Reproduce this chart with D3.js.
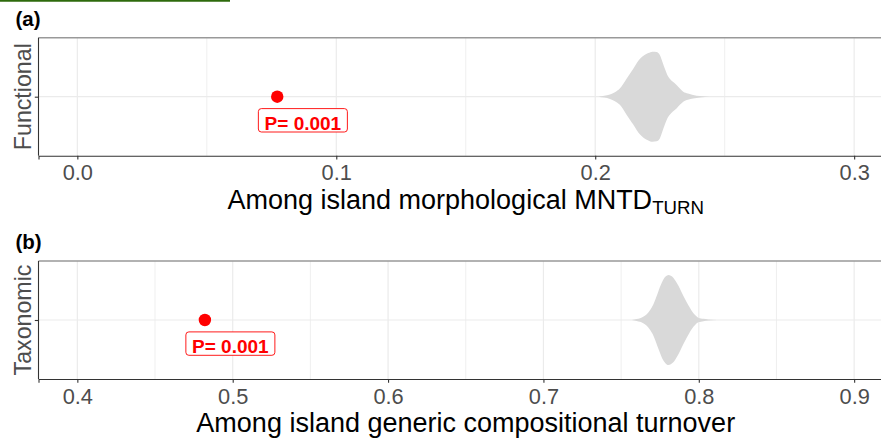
<!DOCTYPE html>
<html>
<head>
<meta charset="utf-8">
<script src="https://cdn.jsdelivr.net/npm/d3@7"></script>
<style>
  html, body { margin: 0; padding: 0; background: #fff; }
  svg { display: block; font-family: "Liberation Sans", Arial, sans-serif; }
</style>
</head>
<body>
<svg id="chart" width="881" height="441"></svg>
<script>
// ---------------- data ----------------
const panelTags = ["(a)", "(b)"];
const groupNames = ["Functional", "Taxonomic"];
const xTitlesMain = ["Among island morphological MNTD", "Among island generic compositional turnover"];
const xTitlesSub = ["TURN", ""];
const pLabel = "P= 0.001";

const observedA = 0.0772;
const observedB = 0.4821;
const labelXA = 0.0871;
const labelXB = 0.4985;

const limitsA = [0, 0.3];
const limitsB = [0.4, 0.9];
const ticksA = [0, 0.1, 0.2, 0.3];
const tickLabelsA = ["0.0", "0.1", "0.2", "0.3"];
const minorA = [0.05, 0.15, 0.25];
const ticksB = [0.4, 0.5, 0.6, 0.7, 0.8, 0.9];
const tickLabelsB = ["0.4", "0.5", "0.6", "0.7", "0.8", "0.9"];
const minorB = [0.45, 0.55, 0.65, 0.75, 0.85];

// null-model distributions (violin outline: value, relative density)
const violinAX = [0.2012, 0.2035, 0.2057, 0.2076, 0.2095, 0.2108, 0.2121, 0.2134, 0.2147, 0.2160, 0.2173, 0.2189, 0.2205, 0.2221, 0.2237, 0.2250, 0.2259, 0.2269, 0.2278, 0.2288, 0.2300, 0.2314, 0.2327, 0.2340, 0.2358, 0.2378, 0.2405, 0.2443];
const violinAD = [0.00, 0.02, 0.05, 0.10, 0.18, 0.28, 0.40, 0.51, 0.62, 0.74, 0.84, 0.92, 0.97, 1.00, 0.99, 0.92, 0.78, 0.62, 0.49, 0.40, 0.33, 0.26, 0.18, 0.11, 0.07, 0.04, 0.015, 0.00];
const violinBX = [0.7569, 0.7600, 0.7622, 0.7645, 0.7665, 0.7688, 0.7708, 0.7724, 0.7740, 0.7756, 0.7772, 0.7788, 0.7804, 0.7820, 0.7836, 0.7852, 0.7869, 0.7890, 0.7912, 0.7934, 0.7955, 0.7976, 0.7997, 0.8030, 0.8062, 0.8116];
const violinBD = [0.00, 0.02, 0.04, 0.08, 0.13, 0.23, 0.35, 0.49, 0.64, 0.78, 0.90, 0.97, 1.00, 0.98, 0.94, 0.86, 0.76, 0.61, 0.46, 0.32, 0.20, 0.11, 0.05, 0.025, 0.012, 0.00];

// ---------------- drawing ----------------
const svg = d3.select("#chart");
const FONT = '"Liberation Sans", Arial, sans-serif';

// thin green rule at very top
svg.append("line").attr("x1", 0).attr("x2", 230).attr("y1", 0.8).attr("y2", 0.8)
  .attr("stroke", "#2e6a0c").attr("stroke-width", 1.7);

function drawPanel(cfg) {
  const left = 38.5, right = 893, top = cfg.top, bottom = cfg.top + 118;
  const span = cfg.limits[1] - cfg.limits[0];
  const x = d3.scaleLinear()
    .domain([cfg.limits[0] - 0.05 * span, cfg.limits[1] + 0.05 * span])
    .range([left, right]);
  const y = d3.scaleLinear().domain([0.4, 1.6]).range([bottom, top]);
  const g = svg.append("g");

  // grid
  g.selectAll(".minor").data(cfg.minor).enter().append("line")
    .attr("x1", d => x(d)).attr("x2", d => x(d)).attr("y1", top).attr("y2", bottom)
    .attr("stroke", "#ebebeb").attr("stroke-width", 0.8);
  g.selectAll(".major").data(cfg.ticks).enter().append("line")
    .attr("x1", d => x(d)).attr("x2", d => x(d)).attr("y1", top).attr("y2", bottom)
    .attr("stroke", "#ebebeb").attr("stroke-width", 1.2);
  g.append("line").attr("x1", left).attr("x2", right).attr("y1", y(1)).attr("y2", y(1))
    .attr("stroke", "#ebebeb").attr("stroke-width", 1.2);

  // violin
  const pts = cfg.vx.map((v, i) => [v, cfg.vd[i]]);
  const w = d3.scaleLinear().domain([0, 1]).range([0, 0.458]);
  const area = d3.area()
    .x(d => x(d[0]))
    .y0(d => y(1 - w(d[1])))
    .y1(d => y(1 + w(d[1])))
    .curve(d3.curveMonotoneX);
  g.append("path").datum(pts).attr("d", area).attr("fill", "#d9d9d9").attr("stroke", "none");

  // observed point
  g.append("circle").attr("cx", x(cfg.obs)).attr("cy", y(1)).attr("r", 6.2).attr("fill", "#ff0000");

  // label
  const lg = g.append("g");
  const lcx = x(cfg.labelX), lcy = y(1 - 0.24);
  const t = lg.append("text").attr("x", lcx).attr("y", lcy + 9.4)
    .attr("text-anchor", "middle").attr("font-family", FONT).attr("font-weight", "bold")
    .attr("font-size", 19).attr("fill", "#ff0000").text(pLabel);
  const bb = t.node().getBBox();
  lg.insert("rect", "text")
    .attr("x", lcx - bb.width / 2 - 6).attr("y", lcy - 11.7)
    .attr("width", bb.width + 12).attr("height", 23.4)
    .attr("rx", 3).attr("ry", 3)
    .attr("fill", "#ffffff").attr("stroke", "#ff0000").attr("stroke-width", 0.9);

  // panel border top
  g.append("line").attr("x1", left).attr("x2", right).attr("y1", top).attr("y2", top)
    .attr("stroke", "#999999").attr("stroke-width", 1.4);

  // x axis
  const xa = d3.axisBottom(x).tickValues(cfg.ticks)
    .tickFormat((d, i) => cfg.tickLabels[i]).tickSize(3.7).tickPadding(5.5);
  const ax = g.append("g").attr("transform", `translate(0,${bottom})`).call(xa);
  ax.select(".domain").attr("stroke", "#333333").attr("stroke-width", 1.1);
  ax.selectAll(".tick line").attr("stroke", "#333333").attr("stroke-width", 1.1);
  ax.selectAll(".tick text").attr("font-family", FONT).attr("font-size", 21.8).attr("fill", "#4d4d4d");

  // y axis (single category)
  const ya = d3.axisLeft(d3.scalePoint().domain([cfg.group]).range([y(1), y(1)]))
    .tickSize(3.7).tickFormat("");
  const ay = g.append("g").attr("transform", `translate(${left},0)`).call(ya);
  ay.select(".domain").remove();
  g.append("line").attr("x1", left).attr("x2", left).attr("y1", top).attr("y2", bottom)
    .attr("stroke", "#333333").attr("stroke-width", 1.1);
  ay.selectAll(".tick line").attr("stroke", "#333333").attr("stroke-width", 1.1);

  // y title
  g.append("text").attr("transform", `translate(31.3,${y(1)}) rotate(-90)`)
    .attr("text-anchor", "middle").attr("font-family", FONT).attr("font-size", 23.2)
    .attr("fill", "#4d4d4d").text(cfg.group);

  // x title
  const xt = g.append("text").attr("x", (left + right) / 2).attr("y", bottom + 53.3)
    .attr("text-anchor", "middle").attr("font-family", FONT).attr("font-size", 27)
    .attr("fill", "#000000");
  xt.append("tspan").text(cfg.titleMain);
  if (cfg.titleSub) {
    xt.append("tspan").attr("font-size", 18.7).attr("dy", 5).text(cfg.titleSub);
  }

  // tag
  svg.append("text").attr("x", 15.5).attr("y", top - 11.8).attr("font-family", FONT)
    .attr("font-weight", "bold").attr("font-size", 20.5).attr("fill", "#000").text(cfg.tag);
}

drawPanel({ top: 37.7, limits: limitsA, ticks: ticksA, tickLabels: tickLabelsA, minor: minorA,
  vx: violinAX, vd: violinAD, obs: observedA, labelX: labelXA, group: groupNames[0],
  titleMain: xTitlesMain[0], titleSub: xTitlesSub[0], tag: panelTags[0] });
drawPanel({ top: 261, limits: limitsB, ticks: ticksB, tickLabels: tickLabelsB, minor: minorB,
  vx: violinBX, vd: violinBD, obs: observedB, labelX: labelXB, group: groupNames[1],
  titleMain: xTitlesMain[1], titleSub: xTitlesSub[1], tag: panelTags[1] });
</script>
</body>
</html>
